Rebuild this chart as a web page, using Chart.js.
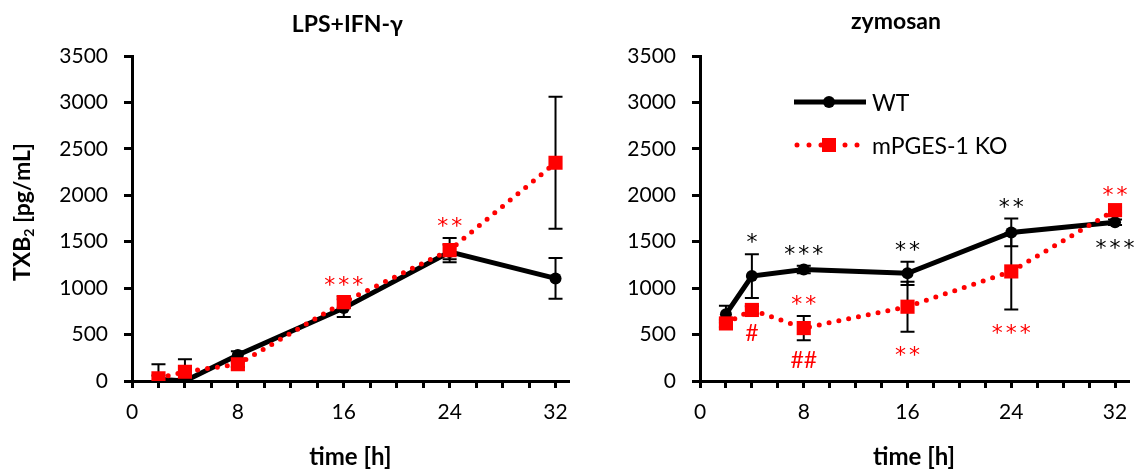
<!DOCTYPE html>
<html>
<head>
<meta charset="utf-8">
<script src="https://cdn.jsdelivr.net/npm/chart.js@4.4.1/dist/chart.umd.min.js"></script>
<style>
  html, body { margin: 0; padding: 0; background: #fff; }
  #wrap { position: relative; width: 1142px; height: 473px; }
  canvas { position: absolute; top: 0; }
</style>
</head>
<body>
<div id="wrap">
  <canvas id="lps" width="580" height="473" style="left:0"></canvas>
  <canvas id="zym" width="562" height="473" style="left:580px"></canvas>
</div>
<script>
// TXB2 [pg/mL] vs time [h], WT vs mPGES-1 KO
const times = [2, 4, 8, 16, 24, 32];
const xTickLabels = [0, 8, 16, 24, 32];
const yTicks = [0, 500, 1000, 1500, 2000, 2500, 3000, 3500];

const lpsWT    = [20, 0, 280, 785, 1390, 1105];
const lpsWTErr = [40, 30, 40, 95, 80, 220];
const lpsKO    = [30, 100, 180, 850, 1410, 2350];
const lpsKOErr = [150, 135, 30, 60, 130, 710];

const zymWT    = [720, 1130, 1200, 1160, 1600, 1710];
const zymWTErr = [90, 235, 40, 125, 150, 30];
const zymKO    = [620, 765, 570, 800, 1180, 1840];
const zymKOErr = [40, 40, 130, 270, 410, 30];

// significance marks: series, time, text, side
const lpsMarks = [
  ['KO', 16, '***', 'above'],
  ['KO', 24, '**', 'above']
];
const zymMarks = [
  ['WT', 4, '*', 'above'],
  ['WT', 8, '***', 'above'],
  ['KO', 8, '**', 'above'],
  ['KO', 4, '#', 'below'],
  ['KO', 8, '##', 'below'],
  ['WT', 16, '**', 'above'],
  ['KO', 16, '**', 'below'],
  ['WT', 24, '**', 'above'],
  ['KO', 24, '***', 'below'],
  ['KO', 32, '**', 'above'],
  ['WT', 32, '***', 'below']
];

const FONT = 'Lato, "Open Sans", sans-serif';
const RED = '#ff0000';

const errorBars = {
  id: 'errorBars',
  beforeDatasetsDraw(chart) {
    const { ctx, scales: { x, y } } = chart;
    ctx.save();
    ctx.strokeStyle = '#000';
    ctx.lineWidth = 2;
    chart.data.datasets.forEach(ds => {
      ds.data.forEach((p, i) => {
        const e = ds.err[i];
        const px = x.getPixelForValue(p.x);
        const top = y.getPixelForValue(p.y + e);
        const bot = y.getPixelForValue(Math.max(0, p.y - e));
        ctx.beginPath();
        ctx.moveTo(px, top); ctx.lineTo(px, bot);
        ctx.moveTo(px - 7, top); ctx.lineTo(px + 7, top);
        ctx.moveTo(px - 7, bot); ctx.lineTo(px + 7, bot);
        ctx.stroke();
      });
    });
    ctx.restore();
  }
};

function centerText(ctx, text, x, y) {
  const m = ctx.measureText(text);
  ctx.fillText(text, x, y + (m.actualBoundingBoxAscent - m.actualBoundingBoxDescent) / 2);
}

const decorations = {
  id: 'decorations',
  afterDatasetsDraw(chart, args, opts) {
    const { ctx, chartArea: a, scales: { x, y } } = chart;
    ctx.save();
    ctx.textAlign = 'center';
    ctx.textBaseline = 'alphabetic';

    // marks
    opts.marks.forEach(([s, t, text, side]) => {
      const ds = chart.data.datasets.find(d => d.key === s);
      const i = times.indexOf(t);
      const v = ds.data[i].y, e = ds.err[i];
      const px = x.getPixelForValue(t);
      const py = side === 'above' ? y.getPixelForValue(v + e) - 16 : y.getPixelForValue(v - e) + 19;
      ctx.fillStyle = s === 'WT' ? '#000' : RED;
      if (text.startsWith('#')) {
        ctx.font = '23px ' + FONT;
        ctx.letterSpacing = '0px';
        centerText(ctx, text, px, py);
      } else {
        ctx.font = '22px "DejaVu Sans", sans-serif';
        ctx.letterSpacing = '3px';
        centerText(ctx, text, px + 1.5, py);
      }
    });
    ctx.letterSpacing = '0px';

    ctx.fillStyle = '#000';
    ctx.font = 'bold 23px ' + FONT;
    centerText(ctx, opts.title, (a.left + a.right) / 2 + opts.titleShift, 25);
    ctx.font = 'bold 24px ' + FONT;
    centerText(ctx, 'time [h]', (a.left + a.right) / 2, 457);

    if (opts.yTitle) {
      ctx.save();
      ctx.translate(23, 212);
      ctx.rotate(-Math.PI / 2);
      ctx.font = 'bold 23px ' + FONT;
      const w1 = ctx.measureText('TXB').width;
      ctx.font = 'bold 14px ' + FONT;
      const w2 = ctx.measureText('2').width;
      ctx.font = 'bold 23px ' + FONT;
      const w3 = ctx.measureText(' [pg/mL]').width;
      let sx = -(w1 + w2 + w3) / 2;
      ctx.textAlign = 'left';
      ctx.textBaseline = 'middle';
      ctx.fillText('TXB', sx, 0);
      ctx.font = 'bold 14px ' + FONT;
      ctx.fillText('2', sx + w1, 6);
      ctx.font = 'bold 23px ' + FONT;
      ctx.fillText(' [pg/mL]', sx + w1 + w2, 0);
      ctx.restore();
    }

    if (opts.legend) {
      const lx = 214, lx2 = 286, cx = 249;
      // WT
      ctx.strokeStyle = '#000'; ctx.lineWidth = 5; ctx.lineCap = 'butt';
      ctx.beginPath(); ctx.moveTo(lx, 102); ctx.lineTo(lx2, 102); ctx.stroke();
      ctx.fillStyle = '#000';
      ctx.beginPath(); ctx.arc(cx, 102, 6, 0, Math.PI * 2); ctx.fill();
      // KO
      ctx.strokeStyle = RED; ctx.lineCap = 'round'; ctx.setLineDash([0, 12]);
      ctx.beginPath(); ctx.moveTo(lx + 3, 145); ctx.lineTo(lx2, 145); ctx.stroke();
      ctx.setLineDash([]);
      ctx.fillStyle = RED;
      ctx.fillRect(cx - 7, 138, 14, 14);
      ctx.fillStyle = '#000';
      ctx.textAlign = 'left';
      ctx.font = '23px ' + FONT;
      centerText(ctx, 'WT', 292, 102);
      centerText(ctx, 'mPGES-1 KO', 292, 145);
    }
    ctx.restore();
  }
};

function makeChart(id, wt, wtErr, ko, koErr, opts) {
  const pts = arr => arr.map((v, i) => ({ x: times[i], y: v }));
  return new Chart(document.getElementById(id), {
    type: 'line',
    data: {
      datasets: [
        {
          key: 'KO', data: pts(ko), err: koErr,
          borderColor: RED, borderWidth: 5, borderDash: [0, 10], borderCapStyle: 'round',
          pointStyle: 'rect', pointRadius: 10, pointBackgroundColor: RED, pointBorderWidth: 0,
          tension: 0
        },
        {
          key: 'WT', data: pts(wt), err: wtErr,
          borderColor: '#000', borderWidth: 5,
          pointStyle: 'circle', pointRadius: 6, pointBackgroundColor: '#000', pointBorderWidth: 0,
          tension: 0
        }
      ]
    },
    options: {
      responsive: false,
      animation: false,
      events: [],
      layout: { padding: { top: 56, right: opts.padRight, left: 0, bottom: 0 } },
      plugins: {
        legend: { display: false },
        tooltip: { enabled: false },
        decorations: {
          title: opts.title, titleShift: opts.titleShift, marks: opts.marks,
          yTitle: opts.yTitle, legend: opts.legend
        }
      },
      scales: {
        x: {
          type: 'linear', min: 0, max: 33,
          afterFit: s => { s.height = 92; },
          afterBuildTicks: s => { s.ticks = Array.from({ length: 17 }, (_, i) => ({ value: i * 2 })); },
          ticks: {
            autoSkip: false, maxRotation: 0, padding: 12, color: '#000',
            font: { family: FONT, size: 21 },
            callback: v => xTickLabels.includes(v) ? String(v) : ''
          },
          grid: { drawOnChartArea: false, drawTicks: true, tickLength: 7, color: '#000', lineWidth: 3 },
          border: { display: true, color: '#000', width: 3 }
        },
        y: {
          min: 0, max: 3500,
          afterFit: s => { s.width = opts.yWidth; },
          afterBuildTicks: s => { s.ticks = yTicks.map(v => ({ value: v })); },
          ticks: {
            padding: 16, color: '#000', font: { family: FONT, size: 21 },
            callback: v => String(v)
          },
          grid: { drawOnChartArea: false, drawTicks: true, tickLength: 8, color: '#000', lineWidth: 3 },
          border: { display: true, color: '#000', width: 3 }
        }
      }
    },
    plugins: [errorBars, decorations]
  });
}

makeChart('lps', lpsWT, lpsWTErr, lpsKO, lpsKOErr,
  { title: 'LPS+IFN-γ', titleShift: -3, marks: lpsMarks, yTitle: true, legend: false, yWidth: 132, padRight: 7 });
makeChart('zym', zymWT, zymWTErr, zymKO, zymKOErr,
  { title: 'zymosan', titleShift: -18, marks: zymMarks, yTitle: false, legend: true, yWidth: 120, padRight: 14 });
</script>
</body>
</html>
